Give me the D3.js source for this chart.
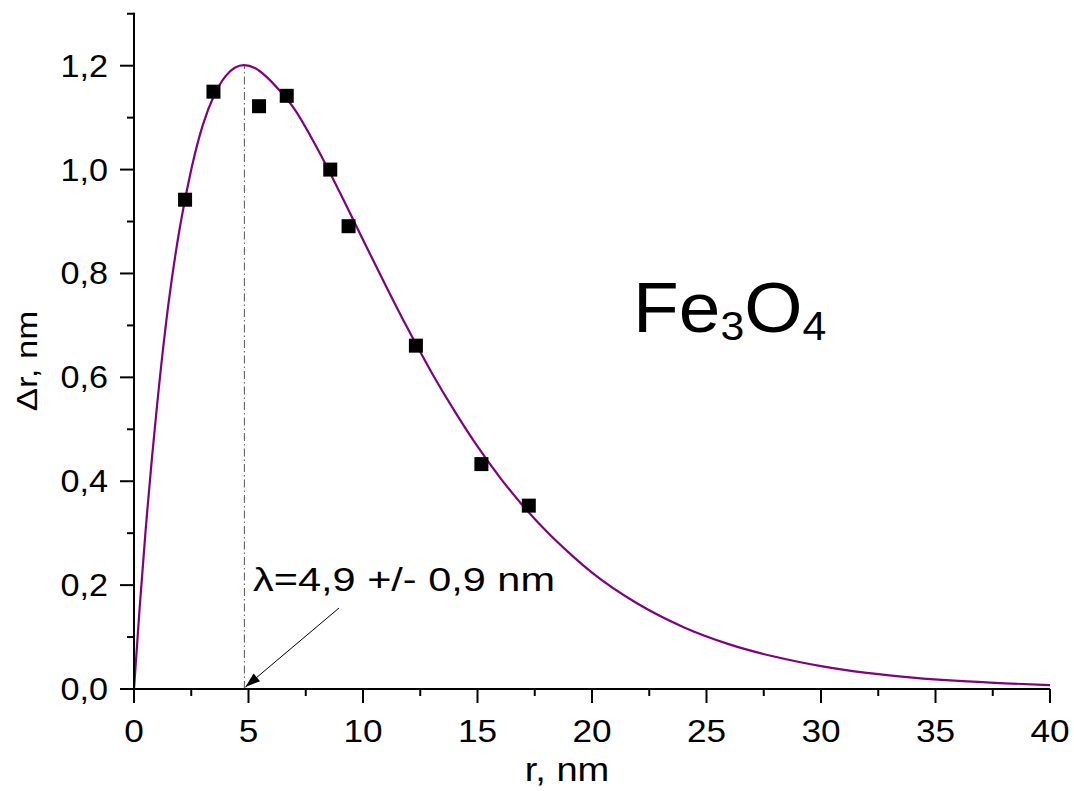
<!DOCTYPE html>
<html>
<head>
<meta charset="utf-8">
<script src="https://cdn.jsdelivr.net/npm/d3@7"></script>
<style>
  html, body { margin: 0; padding: 0; background: #fff; }
  svg { display: block; font-family: Arial, "Liberation Sans", sans-serif; }
</style>
</head>
<body>
<svg id="chart" width="1074" height="791"></svg>
<script>
// ---- data ----
const fitR = [0, 0.25, 0.5, 1, 1.5, 2, 2.5, 3, 3.5, 4, 4.4, 4.8, 5.3, 5.8, 6.3, 7, 8, 9, 10, 11, 12, 13, 14, 15, 16, 17, 18, 19, 20, 22, 24, 26, 28, 30, 32, 34, 36, 38, 40];
const fitDr = [0, 0.158, 0.301, 0.543, 0.740, 0.888, 1.000, 1.085, 1.143, 1.180, 1.196, 1.201, 1.195, 1.178, 1.155, 1.117, 1.041, 0.955, 0.865, 0.776, 0.690, 0.609, 0.535, 0.467, 0.406, 0.352, 0.304, 0.262, 0.224, 0.164, 0.119, 0.086, 0.062, 0.044, 0.031, 0.022, 0.0155, 0.011, 0.0076];
const pointR = [2.23, 3.47, 5.46, 6.67, 8.57, 9.37, 12.31, 15.17, 17.24];
const pointDr = [0.942, 1.150, 1.122, 1.142, 1.000, 0.891, 0.661, 0.433, 0.353];
const xMajorTicks = [0, 5, 10, 15, 20, 25, 30, 35, 40];
const xMinorTicks = [2.5, 7.5, 12.5, 17.5, 22.5, 27.5, 32.5, 37.5];
const yMajorTicks = [0, 0.2, 0.4, 0.6, 0.8, 1.0, 1.2];
const yMinorTicks = [0.1, 0.3, 0.5, 0.7, 0.9, 1.1, 1.3];
const lambdaValue = 4.82;
const lambdaPeak = 1.2;
const xTitle = "r, nm";
const yTitle = "\u0394r, nm";
const lambdaLabel = "\u03BB=4,9 +/- 0,9 nm";

// ---- scales ----
const x = d3.scaleLinear().domain([0, 40]).range([134, 1050]);
const y = d3.scaleLinear().domain([0, 1.2]).range([689, 65.7]);
const fmt = v => d3.format(".1f")(v).replace(".", ",");

const svg = d3.select("#chart");

// curve
const line = d3.line().x((d, i) => x(fitR[i])).y((d, i) => y(fitDr[i])).curve(d3.curveMonotoneX);
svg.append("path").datum(fitDr).attr("d", line)
  .attr("fill", "none").attr("stroke", "#800080").attr("stroke-width", 2.2);

// dash-dot line at lambda
svg.append("line")
  .attr("x1", x(lambdaValue)).attr("x2", x(lambdaValue))
  .attr("y1", y(0)).attr("y2", y(lambdaPeak))
  .attr("stroke", "#555").attr("stroke-width", 1)
  .attr("stroke-dasharray", "8,3,1.5,3");

// points
const sq = 14;
svg.append("g").selectAll("rect").data(pointR).join("rect")
  .attr("x", (d) => x(d) - sq / 2)
  .attr("y", (d, i) => y(pointDr[i]) - sq / 2)
  .attr("width", sq).attr("height", sq).attr("fill", "#000");

// axes
const axisG = svg.append("g");
axisG.append("line").attr("x1", x(0)).attr("x2", x(40)).attr("y1", y(0)).attr("y2", y(0))
  .attr("stroke", "#000").attr("stroke-width", 2);
axisG.append("line").attr("x1", x(0)).attr("x2", x(0)).attr("y1", y(0) + 1).attr("y2", y(1.3) - 1)
  .attr("stroke", "#000").attr("stroke-width", 2);

axisG.selectAll(".xM").data(xMajorTicks).join("line")
  .attr("x1", d => x(d)).attr("x2", d => x(d)).attr("y1", y(0)).attr("y2", y(0) + 14)
  .attr("stroke", "#000").attr("stroke-width", 2);
axisG.selectAll(".xm").data(xMinorTicks).join("line")
  .attr("x1", d => x(d)).attr("x2", d => x(d)).attr("y1", y(0)).attr("y2", y(0) + 7)
  .attr("stroke", "#000").attr("stroke-width", 2);
axisG.selectAll(".yM").data(yMajorTicks).join("line")
  .attr("x1", x(0) - 14).attr("x2", x(0)).attr("y1", d => y(d)).attr("y2", d => y(d))
  .attr("stroke", "#000").attr("stroke-width", 2);
axisG.selectAll(".ym").data(yMinorTicks).join("line")
  .attr("x1", x(0) - 7).attr("x2", x(0)).attr("y1", d => y(d)).attr("y2", d => y(d))
  .attr("stroke", "#000").attr("stroke-width", 2);

// tick labels
svg.append("g").selectAll("text").data(xMajorTicks).join("text")
  .attr("transform", d => `translate(${x(d)},742) scale(1.1,1)`)
  .attr("text-anchor", "middle").attr("font-size", 32).attr("fill", "#000")
  .text(d => d);
svg.append("g").selectAll("text").data(yMajorTicks).join("text")
  .attr("transform", d => `translate(108,${y(d) + 11}) scale(1.07,1)`)
  .attr("text-anchor", "end").attr("font-size", 32).attr("fill", "#000")
  .text(d => fmt(d));

// axis titles
svg.append("text").attr("transform", "translate(567,781) scale(1.12,1)")
  .attr("text-anchor", "middle").attr("font-size", 34).text(xTitle);
svg.append("text").attr("transform", "translate(37,361) rotate(-90) scale(1.2,1)")
  .attr("text-anchor", "middle").attr("font-size", 29).text(yTitle);

// lambda annotation
svg.append("text").attr("x", 253).attr("y", 591).attr("font-size", 33)
  .attr("textLength", 302).attr("lengthAdjust", "spacingAndGlyphs").text(lambdaLabel);

// arrow
const tipX = x(lambdaValue) + 1, tipY = y(0) - 2;
const tailX = 339, tailY = 608;
svg.append("line").attr("x1", tailX).attr("y1", tailY).attr("x2", tipX).attr("y2", tipY)
  .attr("stroke", "#000").attr("stroke-width", 1);
const ang = Math.atan2(tipY - tailY, tipX - tailX);
const hl = 15, hw = 5;
const bx = tipX - hl * Math.cos(ang), by = tipY - hl * Math.sin(ang);
const px = -Math.sin(ang) * hw, py = Math.cos(ang) * hw;
svg.append("path")
  .attr("d", `M${tipX},${tipY}L${bx + px},${by + py}L${bx - px},${by - py}Z`)
  .attr("fill", "#000");

// compound label
const fe = svg.append("text").attr("transform", "translate(633,332) scale(1.07,1)")
  .attr("font-size", 70).attr("fill", "#000");
fe.append("tspan").text("Fe");
fe.append("tspan").attr("font-size", 40).attr("dy", 8).text("3");
fe.append("tspan").attr("dy", -8).text("O");
fe.append("tspan").attr("font-size", 40).attr("dy", 8).text("4");
</script>
</body>
</html>
